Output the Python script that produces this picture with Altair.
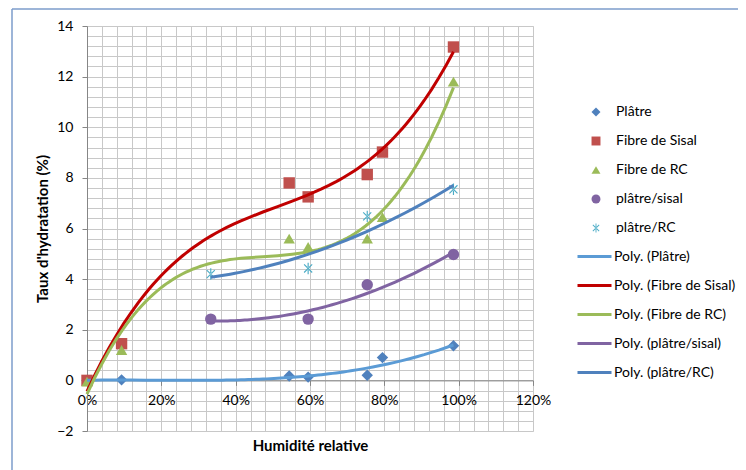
import altair as alt
import pandas as pd

# ---- data ----
series_names = ["Plâtre", "Fibre de Sisal", "Fibre de RC", "plâtre/sisal", "plâtre/RC"]
trend_names = ["Poly. (Plâtre)", "Poly. (Fibre de Sisal)", "Poly. (Fibre de RC)",
               "Poly. (plâtre/sisal)", "Poly. (plâtre/RC)"]

platre_x = [0.0, 0.093, 0.544, 0.595, 0.754, 0.795, 0.986]
platre_y = [0.0, 0.02, 0.17, 0.13, 0.20, 0.90, 1.37]

sisal_x = [0.0, 0.093, 0.544, 0.595, 0.754, 0.795, 0.986]
sisal_y = [0.0, 1.45, 7.80, 7.25, 8.13, 9.02, 13.17]

rc_x = [0.0, 0.093, 0.544, 0.595, 0.754, 0.795, 0.986]
rc_y = [-0.05, 1.20, 5.60, 5.27, 5.60, 6.45, 11.80]

psisal_x = [0.333, 0.595, 0.754, 0.986]
psisal_y = [2.42, 2.42, 3.78, 4.97]

prc_x = [0.333, 0.595, 0.754, 0.986]
prc_y = [4.20, 4.42, 6.48, 7.55]

poly_orders = [3, 3, 3, 2, 2]

x_major = [0, 0.2, 0.4, 0.6, 0.8, 1.0, 1.2]
y_major = [-2, 0, 2, 4, 6, 8, 10, 12, 14]
x_minor = [round(i * 0.04, 2) for i in range(31)]
y_minor = [round(-2 + i * 0.4, 1) for i in range(41)]

marker_colors = ["#4F81BD", "#C0504D", "#9BBB59", "#8064A2", "#4BACC6"]
trend_colors = ["#5B9BD5", "#C00000", "#9BBB59", "#8064A2", "#4F81BD"]

asterisk = ("M-0.1,-1L0.1,-1L0.1,1L-0.1,1Z"
            "M0.636,0.778L0.778,0.636L-0.636,-0.778L-0.778,-0.636Z"
            "M0.778,-0.636L0.636,-0.778L-0.778,0.636L-0.636,0.778Z")
shapes = ["diamond", "square", "triangle-up", "circle", asterisk]

rows = []
for name, xs, ys in zip(series_names,
                        [platre_x, sisal_x, rc_x, psisal_x, prc_x],
                        [platre_y, sisal_y, rc_y, psisal_y, prc_y]):
    for xv, yv in zip(xs, ys):
        rows.append({"series": name, "x": xv, "y": yv})
df = pd.DataFrame(rows)

FONT = "Lato"
W, H = 446, 405
LBL = 14
TTL = 15

xscale = alt.Scale(domain=[0, 1.2], nice=False, zero=False)
yscale = alt.Scale(domain=[-2, 14], nice=False, zero=False)

# ---- grid layer (minor + major gridlines) ----
grid = alt.Chart(df).mark_point(opacity=0).encode(
    x=alt.X("x:Q", scale=xscale,
            axis=alt.Axis(orient="bottom", values=x_minor, grid=True, labels=False,
                          ticks=False, domain=False, title=None,
                          gridColor="#C8C8C8", gridWidth=1)),
    y=alt.Y("y:Q", scale=yscale,
            axis=alt.Axis(orient="left", values=y_minor, grid=True, labels=False,
                          ticks=False, domain=False, title=None,
                          gridColor="#C8C8C8", gridWidth=1)),
)

x_axis = alt.Axis(orient="bottom", offset=-H * 2 / 16, values=x_major, format=".0%",
                  grid=False, domainColor="#868686", tickColor="#868686", tickSize=5,
                  labelPadding=8, labelFontSize=LBL, labelColor="#000000", labelFont=FONT,
                  labelFlush=False, labelOverlap=False,
                  title="Humidité relative", titleFont=FONT, titleFontSize=TTL,
                  titleFontWeight="bold", titleColor="#000000",
                  titleX=W / 2, titleY=65, titleAlign="center", titleBaseline="middle")
y_axis = alt.Axis(orient="left", values=y_major, grid=False, domainColor="#868686",
                  tickColor="#868686", tickSize=5, labelPadding=9, labelFontSize=LBL,
                  labelColor="#000000", labelFont=FONT, labelFlush=False, labelOverlap=False,
                  title="Taux d'hydratation (%)", titleFont=FONT, titleFontSize=TTL,
                  titleFontWeight="bold", titleColor="#000000",
                  titleX=-45, titleY=H / 2, titleAngle=-90, titleAlign="center",
                  titleBaseline="middle")

pt_legend = alt.Legend(orient="none", legendX=502, legendY=79, title=None,
                       symbolSize=80, labelFont=FONT, labelFontSize=LBL,
                       labelColor="#000000", labelOffset=13, rowPadding=15,
                       symbolStrokeWidth=0)

points = alt.Chart(df).mark_point(filled=True, opacity=1, size=130).encode(
    x=alt.X("x:Q", scale=xscale, axis=x_axis),
    y=alt.Y("y:Q", scale=yscale, axis=y_axis),
    color=alt.Color("series:N", scale=alt.Scale(domain=series_names, range=marker_colors),
                    legend=pt_legend),
    shape=alt.Shape("series:N", scale=alt.Scale(domain=series_names, range=shapes),
                    legend=pt_legend),
)

lines = []
for name, trend, order in zip(series_names, trend_names, poly_orders):
    ln = (alt.Chart(df)
          .transform_filter(alt.datum.series == name)
          .transform_regression("x", "y", method="poly", order=order)
          .transform_calculate(trend=f"'{trend}'")
          .mark_line(strokeWidth=3)
          .encode(
              x=alt.X("x:Q", scale=xscale, axis=x_axis),
              y=alt.Y("y:Q", scale=yscale, axis=y_axis),
              stroke=alt.Stroke("trend:N",
                                scale=alt.Scale(domain=trend_names, range=trend_colors),
                                legend=alt.Legend(orient="none", legendX=489, legendY=212,
                                                  title=None, symbolType="stroke",
                                                  symbolSize=1156, symbolStrokeWidth=3,
                                                  labelFont=FONT, labelFontSize=LBL,
                                                  labelColor="#000000", labelOffset=1,
                                                  rowPadding=3)),
          ))
    lines.append(ln)

data_layer = alt.layer(points, *lines)

one = pd.DataFrame({"a": [0]})
border_top = alt.Chart(one).mark_rule(color="#7C9CCB", strokeWidth=1.5).encode(
    x=alt.value(-75), x2=alt.value(700), y=alt.value(-17))
border_left = alt.Chart(one).mark_rule(color="#7C9CCB", strokeWidth=1.5).encode(
    x=alt.value(-75), y=alt.value(-17), y2=alt.value(460))

chart = (alt.layer(grid, data_layer, border_top, border_left)
         .resolve_axis(x="independent", y="independent")
         .properties(width=W, height=H,
                     autosize=alt.AutoSizeParams(type="none"),
                     padding={"left": 79, "top": 18, "right": 205, "bottom": 40})
         .configure_view(stroke=None)
         .configure(font=FONT, background="white"))

chart.save("out.html", embed_options={"renderer": "svg", "actions": False})
